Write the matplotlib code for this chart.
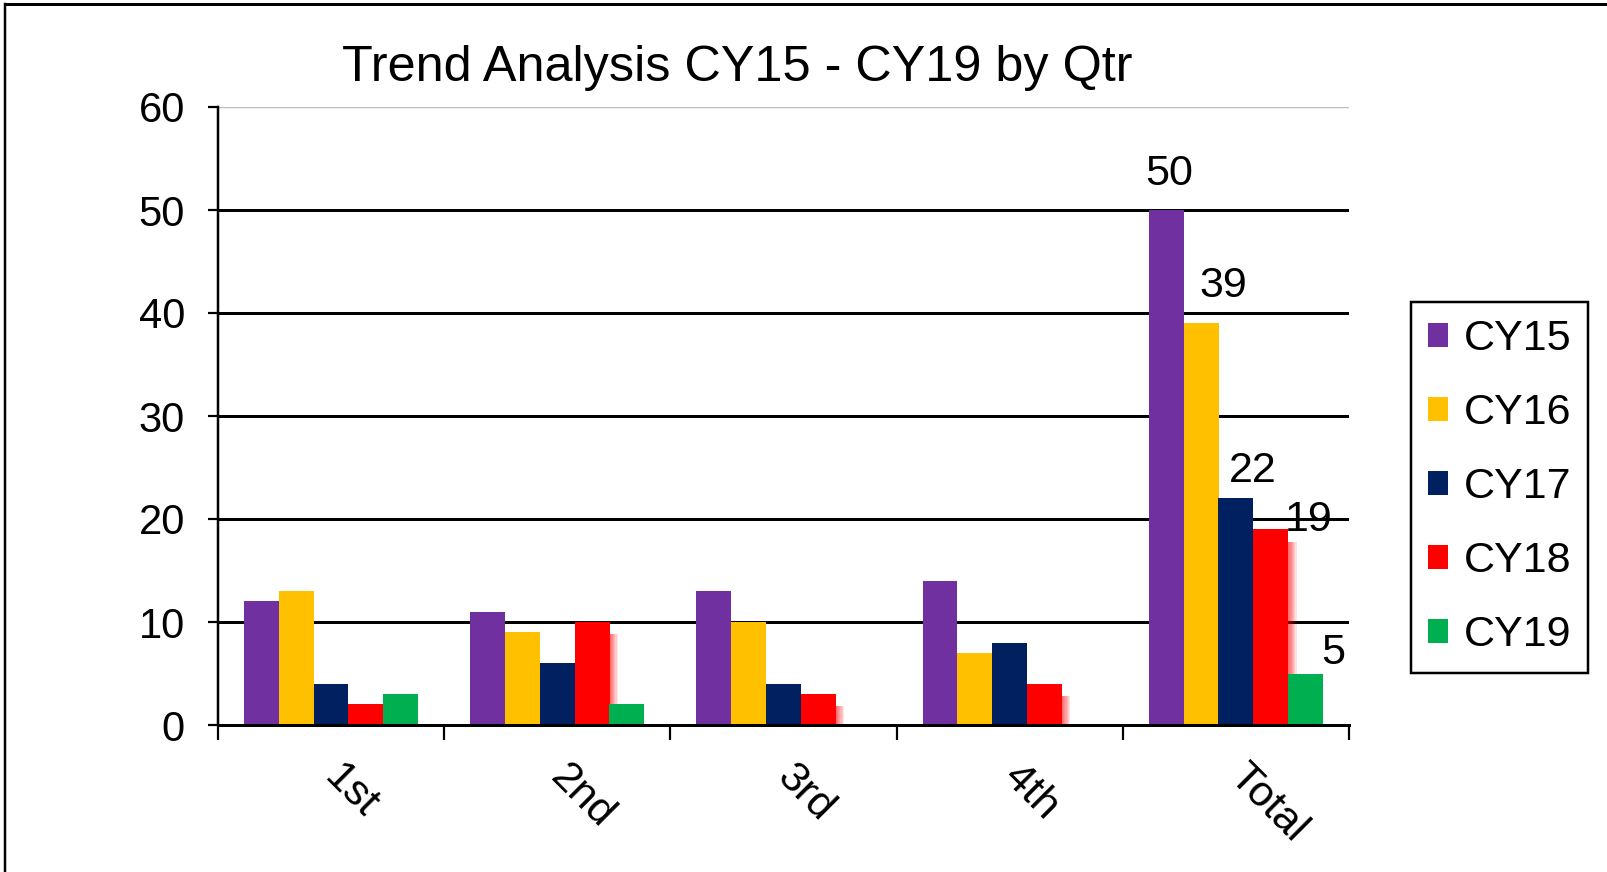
import matplotlib
matplotlib.use("Agg")
import matplotlib.pyplot as plt
import numpy as np
from matplotlib.patches import Rectangle
from matplotlib.lines import Line2D
from matplotlib.transforms import ScaledTranslation

# ---- data ----
categories = ["1st", "2nd", "3rd", "4th", "Total"]
series_names = ["CY15", "CY16", "CY17", "CY18", "CY19"]
cy15 = [12, 11, 13, 14, 50]
cy16 = [13, 9, 10, 7, 39]
cy17 = [4, 6, 4, 8, 22]
cy18 = [2, 10, 3, 4, 19]
cy19 = [3, 2, 0, 0, 5]
series_values = [cy15, cy16, cy17, cy18, cy19]
colors = ["#7030A0", "#FFC000", "#002060", "#FF0000", "#00B050"]
title = "Trend Analysis CY15 - CY19 by Qtr"
y_ticks = [0, 10, 20, 30, 40, 50, 60]

# label offsets (px) for data labels on the "Total" group: (dx, baseline dy)
label_offsets_px = [(3, 25), (22, 26), (17, 16), (38, -2), (28, 9)]

plt.rcParams['font.family'] = ['Liberation Sans', 'DejaVu Sans']

W, H, DPI = 1608, 872, 100
fig = plt.figure(figsize=(W / DPI, H / DPI), dpi=DPI)
PX = 72.0 / DPI  # points per pixel

ax = fig.add_axes([218 / W, 1 - 725 / H, (1349 - 218) / W, (725 - 107) / H])

n_series = len(series_names)
bar_w = 1.0 / 6.5
centers = np.arange(len(categories)) + 0.5
px_x = 5.0 / (1349 - 218)   # data units per pixel in x

containers = []
for i, (name, vals, col) in enumerate(zip(series_names, series_values, colors)):
    xs = centers + (i - (n_series - 1) / 2) * bar_w
    c = ax.bar(xs, vals, width=bar_w, color=col, label=name, zorder=3,
               linewidth=0)
    containers.append(c)
    if name == "CY18":
        # soft shadow glow on the right side
        for x, v in zip(xs, vals):
            if v <= 0:
                continue
            for k in range(1, 8):
                ax.add_patch(Rectangle((x - bar_w / 2 + k * 1.2 * px_x, 0),
                                       bar_w, max(v - 1.2, 0),
                                       facecolor=col, alpha=0.11, lw=0,
                                       zorder=2.5))

# data labels on Total group
for i, c in enumerate(containers):
    rect = c.patches[-1]
    xc = rect.get_x() + rect.get_width() / 2
    v = rect.get_height()
    dx, dy = label_offsets_px[i]
    ax.annotate(f"{int(v)}", xy=(xc, v), xytext=(dx * PX, dy * PX),
                textcoords="offset points", ha="center", va="baseline",
                fontsize=31, zorder=5)

ax.set_xlim(0, len(categories))
ax.set_ylim(0, 60)
ax.set_yticks(y_ticks)
ax.set_yticklabels([str(t) for t in y_ticks], fontsize=30)
ax.set_xticks(np.arange(len(categories) + 1))
ax.set_xticklabels([])
ax.set_xticks(centers, minor=True)
ax.set_xticklabels(categories, minor=True, fontsize=31, rotation=-45,
                   ha="left", va="baseline", rotation_mode="anchor")
ax.tick_params(axis="x", which="minor", length=0, pad=54 * PX)
ax.tick_params(axis="x", which="major", direction="out", length=15 * PX,
               width=2.2 * PX, color="black")
ax.tick_params(axis="y", which="major", direction="out", length=10 * PX,
               width=2.2 * PX, color="black", pad=23 * PX)
for lab in ax.get_xticklabels(minor=True):
    lab.set_transform(lab.get_transform() +
                      ScaledTranslation(-8 / DPI, 0, fig.dpi_scale_trans))

for s in ["top", "right"]:
    ax.spines[s].set_visible(False)
ax.spines["left"].set_linewidth(2.5 * PX)
ax.spines["bottom"].set_linewidth(3 * PX)
ax.spines["left"].set_zorder(4)
ax.spines["bottom"].set_zorder(4)

ax.yaxis.grid(True, color="black", linewidth=3 * PX, zorder=1)
ax.set_axisbelow(True)
gls = ax.get_ygridlines()
gls[-1].set_color("#bdbdbd")
gls[-1].set_linewidth(2.5 * PX)

# title
fig.text(737 / W, 1 - 81 / H, title, ha="center", va="baseline", fontsize=36.3)

# legend
leg = ax.legend(loc="upper left", bbox_to_anchor=(1411 / W, 1 - 302 / H),
                bbox_transform=fig.transFigure, borderaxespad=0,
                fontsize=31, handlelength=0.47, handleheight=0.51,
                handletextpad=0.35, borderpad=0.40, labelspacing=0.79,
                fancybox=False, framealpha=1)
leg.get_frame().set_edgecolor("black")
leg.get_frame().set_linewidth(2.5 * PX)

# outer frame (left and top edges)
fig.add_artist(Line2D([5 / W, 5 / W], [0, 1 - 4 / H], color="black",
                      linewidth=2.5 * PX, transform=fig.transFigure))
fig.add_artist(Line2D([5 / W, 1], [1 - 4 / H, 1 - 4 / H], color="black",
                      linewidth=3 * PX, transform=fig.transFigure))

fig.savefig("out.png", dpi=DPI, facecolor="white")
